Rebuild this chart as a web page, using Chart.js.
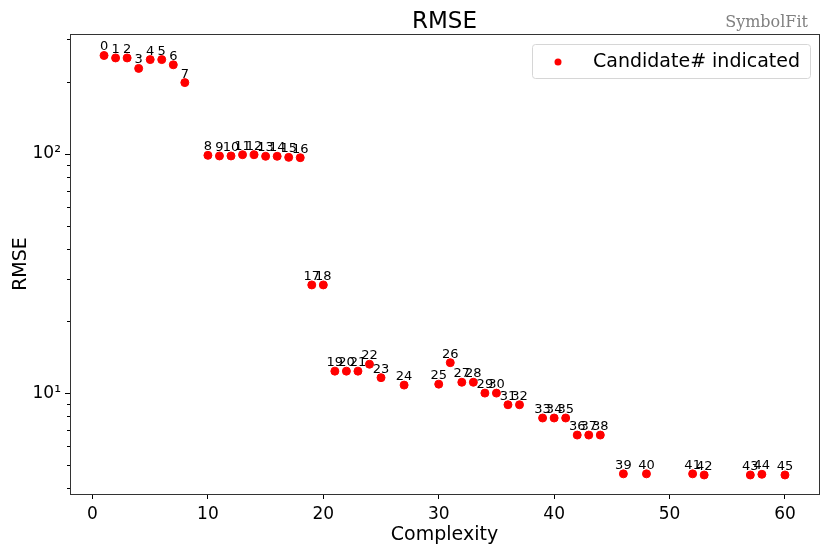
<!DOCTYPE html>
<html>
<head>
<meta charset="utf-8">
<script src="https://cdn.jsdelivr.net/npm/chart.js@4"></script>
<style>
  html, body { margin: 0; padding: 0; background: #fff; }
  #wrap { width: 830px; height: 554px; }
</style>
</head>
<body>
<div id="wrap"><canvas id="rmseChart" width="830" height="554"></canvas></div>
<script>
// complexity of each candidate (x) and its RMSE (y)
const complexity = [1, 2, 3, 4, 5, 6, 7, 8, 10, 11, 12, 13, 14, 15, 16, 17, 18,
    19, 20, 21, 22, 23, 24, 25, 27, 30, 31, 32, 33, 34, 35, 36, 37, 39, 40, 41,
    42, 43, 44, 46, 48, 52, 53, 57, 58, 60];
const rmse = [257, 251, 251, 227, 247, 247, 235, 198, 98.4, 97.8, 97.8, 99, 99,
    97.5, 97.5, 96.5, 96.2, 28.3, 28.3, 12.35, 12.35, 12.35, 13.2, 11.6, 10.8,
    10.9, 13.4, 11.1, 11.1, 10.0, 10.0, 8.94, 8.94, 7.87, 7.87, 7.87, 6.68, 6.68,
    6.68, 4.6, 4.6, 4.6, 4.55, 4.55, 4.58, 4.55];
const candidateIds = complexity.map((_, i) => String(i));

const xTicks = [0, 10, 20, 30, 40, 50, 60];
const yMajorTicks = [10, 100];
const yMinorTicks = [4, 5, 6, 7, 8, 9, 20, 30, 40, 50, 60, 70, 80, 90, 200, 300];
const yMajorLabels = { 10: "10\u00B9", 100: "10\u00B2" };

const FONT = "'DejaVu Sans', sans-serif";

// Plugin : labels des points, ticks de l'axe y, titres et légende
const decorations = {
    id: "decorations",
    afterDatasetsDraw(chart) {
        const ctx = chart.ctx;
        const meta = chart.getDatasetMeta(0);
        ctx.save();
        ctx.fillStyle = "#000";
        ctx.font = "13px " + FONT;
        ctx.textAlign = "center";
        ctx.textBaseline = "alphabetic";
        meta.data.forEach((pt, i) => {
            ctx.fillText(candidateIds[i], pt.x, pt.y - 5);
        });
        ctx.restore();
    },
    afterDraw(chart) {
        const ctx = chart.ctx;
        const area = chart.chartArea;
        const y = chart.scales.y;
        ctx.save();

        // ticks y (majeurs + mineurs)
        ctx.strokeStyle = "#000";
        ctx.lineWidth = 1;
        yMajorTicks.forEach(v => {
            const py = Math.round(y.getPixelForValue(v)) + 0.5;
            ctx.beginPath();
            ctx.moveTo(area.left - 5, py);
            ctx.lineTo(area.left, py);
            ctx.stroke();
        });
        yMinorTicks.forEach(v => {
            const py = Math.round(y.getPixelForValue(v)) + 0.5;
            ctx.beginPath();
            ctx.moveTo(area.left - 3, py);
            ctx.lineTo(area.left, py);
            ctx.stroke();
        });
        ctx.fillStyle = "#000";
        ctx.font = "17px " + FONT;
        ctx.textAlign = "right";
        ctx.textBaseline = "middle";
        yMajorTicks.forEach(v => {
            ctx.fillText(yMajorLabels[v], area.left - 9, y.getPixelForValue(v));
        });

        // titre
        ctx.font = "23px " + FONT;
        ctx.textAlign = "center";
        ctx.textBaseline = "alphabetic";
        ctx.fillText("RMSE", (area.left + area.right) / 2, 28);

        // marque SymbolFit
        ctx.fillStyle = "#808080";
        ctx.font = "16px 'DejaVu Serif', serif";
        ctx.textAlign = "right";
        ctx.fillText("SymbolFit", 808, 27);

        // titres des axes
        ctx.fillStyle = "#000";
        ctx.font = "19px " + FONT;
        ctx.textAlign = "center";
        ctx.fillText("Complexity", (area.left + area.right) / 2, 540);
        ctx.save();
        ctx.translate(26, (area.top + area.bottom) / 2);
        ctx.rotate(-Math.PI / 2);
        ctx.fillText("RMSE", 0, 0);
        ctx.restore();

        // légende
        const lx = 532, ly = 44, lw = 278, lh = 34;
        ctx.fillStyle = "rgba(255,255,255,0.8)";
        ctx.strokeStyle = "#d6d6d6";
        ctx.lineWidth = 1;
        ctx.beginPath();
        ctx.roundRect(lx + 0.5, ly + 0.5, lw, lh, 3);
        ctx.fill();
        ctx.stroke();
        ctx.fillStyle = "red";
        ctx.beginPath();
        ctx.arc(558, ly + lh / 2 + 1, 3.5, 0, Math.PI * 2);
        ctx.fill();
        ctx.fillStyle = "#000";
        ctx.font = "19px " + FONT;
        ctx.textAlign = "left";
        ctx.textBaseline = "middle";
        ctx.fillText("Candidate# indicated", 593, ly + lh / 2 + 1);

        ctx.restore();
    }
};

const ctx = document.getElementById("rmseChart").getContext("2d");
new Chart(ctx, {
    type: "scatter",
    data: {
        datasets: [{
            label: "Candidate# indicated",
            data: complexity.map((c, i) => ({ x: c, y: rmse[i] })),
            backgroundColor: "red",
            borderColor: "red",
            pointRadius: 4,
            pointHoverRadius: 4
        }]
    },
    options: {
        responsive: false,
        animation: false,
        devicePixelRatio: 1,
        layout: { padding: { left: 0, right: 11, top: 34, bottom: 0 } },
        plugins: {
            legend: { display: false },
            tooltip: { enabled: false }
        },
        scales: {
            x: {
                type: "linear",
                min: -1.95,
                max: 62.95,
                afterBuildTicks: s => { s.ticks = xTicks.map(v => ({ value: v })); },
                afterFit: s => { s.height = 60; },
                grid: { drawOnChartArea: false, tickLength: 5, color: "#000" },
                border: { color: "#333", width: 1 },
                ticks: {
                    color: "#000",
                    font: { family: FONT, size: 17 },
                    padding: 5,
                    maxRotation: 0
                }
            },
            y: {
                type: "logarithmic",
                min: 3.79,
                max: 316,
                afterBuildTicks: s => { s.ticks = yMajorTicks.map(v => ({ value: v })); },
                afterFit: s => { s.width = 70; },
                grid: { display: false },
                border: { color: "#333", width: 1 },
                ticks: { display: false }
            },
            y2: {
                position: "right",
                type: "linear",
                display: true,
                min: 0, max: 1,
                afterFit: s => { s.width = 0; },
                grid: { display: false },
                border: { color: "#333", width: 1 },
                ticks: { display: false }
            },
            x2: {
                position: "top",
                type: "linear",
                display: true,
                min: 0, max: 1,
                afterFit: s => { s.height = 0; },
                grid: { display: false },
                border: { color: "#333", width: 1 },
                ticks: { display: false }
            }
        }
    },
    plugins: [decorations]
});
</script>
</body>
</html>
